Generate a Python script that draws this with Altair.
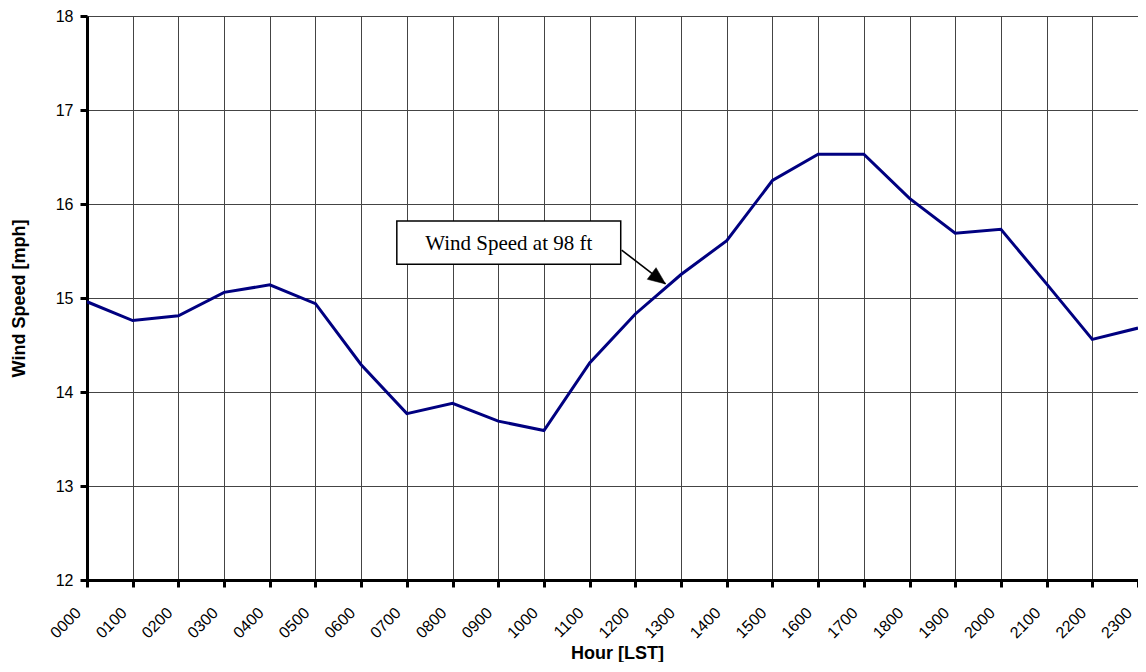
import altair as alt
import pandas as pd

hours = ["0000", "0100", "0200", "0300", "0400", "0500", "0600", "0700",
         "0800", "0900", "1000", "1100", "1200", "1300", "1400", "1500",
         "1600", "1700", "1800", "1900", "2000", "2100", "2200", "2300"]
speeds = [14.96, 14.76, 14.81, 15.06, 15.14, 14.94, 14.29, 13.77,
          13.88, 13.69, 13.59, 14.31, 14.83, 15.25, 15.61, 16.25,
          16.53, 16.53, 16.06, 15.69, 15.73, 15.15, 14.56, 14.68]

y_ticks = [12, 13, 14, 15, 16, 17, 18]

annotation_text = "Wind Speed at 98 ft"
# annotation box / arrow in data units (hour index, mph)
box = {"x": 6.78, "x2": 11.68, "y": 15.82, "y2": 15.36}
text_pos = {"x": 9.23, "y": 15.51}
arrow = {"x": 11.70, "y": 15.51, "x2": 12.66, "y2": 15.15}

df = pd.DataFrame({"idx": list(range(len(hours))), "hour": hours, "speed": speeds})

label_expr = "[" + ",".join("'%s'" % h for h in hours) + "][datum.value]"

x_scale = alt.Scale(domain=[0, len(hours) - 1], nice=False, zero=False)
y_scale = alt.Scale(domain=[12, 18], nice=False, zero=False)

x_axis = alt.Axis(
    values=list(range(len(hours))), labelExpr=label_expr, labelAngle=-45,
    labelAlign="right", labelBaseline="middle", labelPadding=23, labelOffset=-9,
    labelFont="Liberation Sans", labelFontSize=16, labelColor="black",
    title="Hour [LST]", titleFont="Liberation Sans", titleFontSize=18,
    titleFontWeight="bold", titleColor="black", titleX=530, titleY=78,
    titleAlign="center", titleBaseline="alphabetic",
    domainColor="black", domainWidth=3, tickColor="black", tickWidth=3,
    tickSize=7, grid=True, gridColor="#444444", gridWidth=1, labelOverlap=False,
)
y_axis = alt.Axis(
    values=y_ticks, format="d", labelFont="Liberation Sans", labelFontSize=16,
    labelColor="black", labelPadding=7,
    title="Wind Speed [mph]", titleFont="Liberation Sans", titleFontSize=18,
    titleFontWeight="bold", titleColor="black", titleX=-59, titleY=282,
    titleAngle=-90, titleAlign="center", titleBaseline="bottom",
    domainColor="black", domainWidth=3, tickColor="black", tickWidth=3,
    tickSize=7, grid=True, gridColor="#444444", gridWidth=1,
)

line = alt.Chart(df).mark_line(color="#000080", strokeWidth=3, clip=True).encode(
    x=alt.X("idx:Q", scale=x_scale, axis=x_axis),
    y=alt.Y("speed:Q", scale=y_scale, axis=y_axis),
)

box_df = pd.DataFrame([box])
box_layer = alt.Chart(box_df).mark_rect(fill="white", stroke="black", strokeWidth=1.5).encode(
    x=alt.X("x:Q", scale=x_scale), x2="x2:Q",
    y=alt.Y("y:Q", scale=y_scale), y2="y2:Q",
)

text_df = pd.DataFrame([{**text_pos, "t": annotation_text}])
text_layer = alt.Chart(text_df).mark_text(
    font="Liberation Serif", fontSize=21, color="black", align="center",
    baseline="alphabetic",
).encode(x=alt.X("x:Q", scale=x_scale), y=alt.Y("y:Q", scale=y_scale), text="t:N")

arrow_df = pd.DataFrame([arrow])
arrow_line = alt.Chart(arrow_df).mark_rule(color="black", strokeWidth=1.6).encode(
    x=alt.X("x:Q", scale=x_scale), x2="x2:Q",
    y=alt.Y("y:Q", scale=y_scale), y2="y2:Q",
)
arrow_head = alt.Chart(arrow_df).mark_point(
    shape="M0,0L-0.42,1L0.42,1Z", filled=True, fill="black", stroke="black",
    strokeWidth=0.5, size=1200, angle=127, opacity=1,
).encode(x=alt.X("x2:Q", scale=x_scale), y=alt.Y("y2:Q", scale=y_scale))

chart = alt.layer(line, box_layer, text_layer, arrow_line, arrow_head).properties(
    width=1051, height=564,
    autosize=alt.AutoSizeParams(type="none"),
    padding={"left": 79, "top": 8, "right": 0, "bottom": 82},
    background="white",
).configure_view(stroke=None)

chart.save("out.html", embed_options={"renderer": "svg", "actions": False})
